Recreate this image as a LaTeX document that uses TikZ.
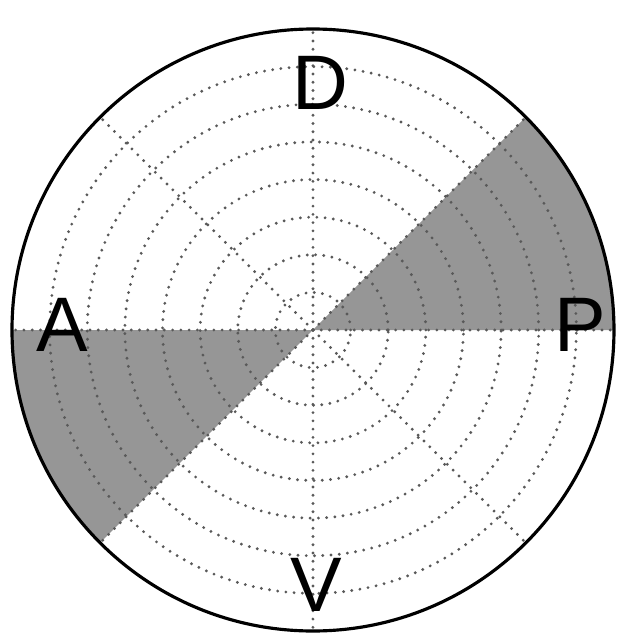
\documentclass[tikz,border=0pt]{standalone}
\usepackage{fontspec}
\setmainfont{Liberation Sans}
\usepackage{xcolor}
\usepackage{tikz}
\definecolor{SectorGray}{RGB}{150,150,150}

\begin{document}
\begin{tikzpicture}[
    x=1cm,y=1cm,
    ring/.style={draw=black!65, line width=0.9pt, line cap=round, dash pattern=on 0pt off 2.35pt},
    sector/.style={fill=SectorGray, draw=none},
    pole/.style={font=\fontsize{22}{22}\selectfont, inner sep=0pt}
  ]
    \useasboundingbox (-3.13,-3.07) rectangle (3.04,3.30);
    \fill[sector] (0,0) -- (0:3.01) arc (0:45:3.01) -- cycle;
    \fill[sector] (0,0) -- (180:3.01) arc (180:225:3.01) -- cycle;
    \foreach \r in {1,...,7} {\draw[ring] (0,0) circle ({\r*3.01/8});}
    \foreach \a in {0,45,...,315} {\draw[ring] (0,0) -- (\a:3.01);}
    \draw[line width=0.9pt] (0,0) circle (3.01);
    \node[pole] (D) at (0.07,2.47) {D};
    \node[pole] (A) at (-2.51,0.05) {A};
    \node[pole] (P) at (2.67,0.05) {P};
    \node[pole] (V) at (0.03,-2.55) {V};
  \end{tikzpicture}
\end{document}
